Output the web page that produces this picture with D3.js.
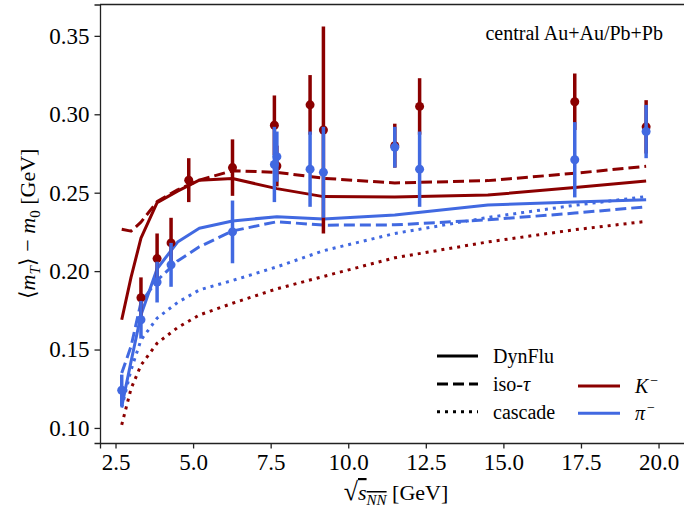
<!DOCTYPE html>
<html>
<head>
<meta charset="utf-8">
<script src="https://cdn.jsdelivr.net/npm/d3@7"></script>
<style>
  body { margin: 0; background: #fff; }
  svg text { font-family: 'Liberation Serif', 'Times New Roman', serif !important; fill: #000; }
</style>
</head>
<body>
<script>
const W = 684, H = 509;
const serif = "'Liberation Serif', 'Times New Roman', serif";

// model grid (sqrt(s_NN) in GeV)
const modelE = [2.7, 3.0, 3.32, 3.84, 4.5, 5.2, 6.27, 7.7, 9.2, 11.5, 14.5, 17.3, 19.6];
const kDynFlu  = [0.169, 0.196, 0.221, 0.2437, 0.251, 0.258, 0.259, 0.2526, 0.2475, 0.2472, 0.2485, 0.2533, 0.2575];
const kIso     = [0.2267, 0.2255, 0.2312, 0.2443, 0.2518, 0.258, 0.264, 0.263, 0.2592, 0.2562, 0.2577, 0.2624, 0.2668];
const kCascade = [0.102, 0.125, 0.140, 0.154, 0.164, 0.172, 0.1795, 0.1887, 0.1966, 0.2085, 0.2186, 0.2264, 0.2317];
const piDynFlu  = [0.1136, 0.1423, 0.172, 0.2015, 0.2185, 0.2273, 0.232, 0.2347, 0.2332, 0.2358, 0.2422, 0.244, 0.2455];
const piIso     = [0.135, 0.152, 0.180, 0.194, 0.2065, 0.2155, 0.2256, 0.2315, 0.2293, 0.2295, 0.2327, 0.237, 0.241];
const piCascade = [0.113, 0.137, 0.156, 0.170, 0.180, 0.188, 0.194, 0.2027, 0.213, 0.224, 0.2342, 0.242, 0.2475];

// experimental data
const expE_K  = [3.32, 3.84, 4.29, 4.86, 6.27, 7.62, 7.7, 8.77, 9.2, 11.5, 12.3, 17.3, 19.6];
const expK    = [0.183, 0.208, 0.218, 0.258, 0.266, 0.293, 0.267, 0.306, 0.290, 0.280, 0.305, 0.308, 0.292];
const expKerr = [0.013, 0.016, 0.016, 0.014, 0.018, 0.019, 0.013, 0.019, 0.066, 0.014, 0.018, 0.018, 0.017];
const expE_pi  = [2.7, 3.32, 3.84, 4.29, 6.27, 7.62, 7.7, 8.77, 9.2, 11.5, 12.3, 17.3, 19.6];
const expPi    = [0.124, 0.169, 0.193, 0.204, 0.225, 0.268, 0.273, 0.265, 0.263, 0.279, 0.265, 0.271, 0.289];
const expPiErr = [0.010, 0.012, 0.013, 0.014, 0.020, 0.024, 0.016, 0.024, 0.029, 0.013, 0.024, 0.024, 0.017];

const xTicks = [2.5, 5.0, 7.5, 10.0, 12.5, 15.0, 17.5, 20.0];
const yTicks = [0.10, 0.15, 0.20, 0.25, 0.30, 0.35];

const red = "#8b0000", blue = "#4169e1";

const plotLeft = 100, plotTop = 4.5, plotBottom = 443;

const x = d3.scaleLinear().domain([2.0, 21.0]).range([plotLeft, plotLeft + 19 * 31.03]);
const y = d3.scaleLinear().domain([0.0904, 0.37]).range([plotBottom, plotTop]);

const svg = d3.select("body").append("svg")
    .attr("width", W).attr("height", H)
    .attr("font-family", serif);

// axes
const xAxis = svg.append("g")
    .attr("transform", "translate(0," + plotBottom + ")")
    .call(d3.axisBottom(x).tickValues(xTicks).tickFormat(d3.format(".1f")).tickSizeOuter(0).tickSize(5.5).tickPadding(5));
const yAxis = svg.append("g")
    .attr("transform", "translate(" + plotLeft + ",0)")
    .call(d3.axisLeft(y).tickValues(yTicks).tickFormat(d3.format(".2f")).tickSizeOuter(0).tickSize(5.5).tickPadding(5));

[xAxis, yAxis].forEach(a => {
    a.attr("font-family", serif).attr("font-size", 23);
    a.selectAll("path.domain").attr("stroke", "#222").attr("stroke-width", 1.3);
    a.selectAll(".tick line").attr("stroke", "#222").attr("stroke-width", 1.3);
    a.selectAll(".tick text").attr("fill", "#000");
});

// top spine
svg.append("line")
    .attr("x1", plotLeft).attr("x2", W).attr("y1", plotTop).attr("y2", plotTop)
    .attr("stroke", "#222").attr("stroke-width", 1.3);

// model curves
const line = d3.line().x(d => x(d[0])).y(d => y(d[1]));
const curves = [
    { v: kDynFlu, c: red, dash: null },
    { v: kIso, c: red, dash: "11,5" },
    { v: kCascade, c: red, dash: "3,5" },
    { v: piDynFlu, c: blue, dash: null },
    { v: piIso, c: blue, dash: "11,5" },
    { v: piCascade, c: blue, dash: "3,5" }
];
curves.forEach(cv => {
    svg.append("path")
        .attr("d", line(modelE.map((e, i) => [e, cv.v[i]])))
        .attr("fill", "none")
        .attr("stroke", cv.c)
        .attr("stroke-width", 3)
        .attr("stroke-dasharray", cv.dash)
        .attr("stroke-linejoin", "round");
});

// data points with error bars
function drawData(E, V, Err, color) {
    const g = svg.append("g");
    const pts = E.map((e, i) => ({ e: e, v: V[i], err: Err[i] }));
    g.selectAll("line").data(pts).enter().append("line")
        .attr("x1", d => x(d.e)).attr("x2", d => x(d.e))
        .attr("y1", d => y(d.v - d.err)).attr("y2", d => y(d.v + d.err))
        .attr("stroke", color).attr("stroke-width", 3.5);
    g.selectAll("circle").data(pts).enter().append("circle")
        .attr("cx", d => x(d.e)).attr("cy", d => y(d.v))
        .attr("r", 4.5).attr("fill", color);
}
drawData(expE_K, expK, expKerr, red);
drawData(expE_pi, expPi, expPiErr, blue);

// annotation
svg.append("text")
    .attr("x", 663).attr("y", 40)
    .attr("text-anchor", "end")
    .attr("font-size", 20)
    .text("central Au+Au/Pb+Pb");

// y label
const yl = svg.append("text")
    .attr("transform", "translate(35,224) rotate(-90)")
    .attr("text-anchor", "middle")
    .attr("font-size", 22);
yl.append("tspan").text("\u27e8");
yl.append("tspan").attr("font-style", "italic").text("m");
yl.append("tspan").attr("font-style", "italic").attr("font-size", 15).attr("dy", 5).text("T");
yl.append("tspan").attr("dy", -5).text("\u27e9 \u2212 ");
yl.append("tspan").attr("font-style", "italic").text("m");
yl.append("tspan").attr("font-size", 15).attr("dy", 5).text("0");
yl.append("tspan").attr("dy", -5).text(" [GeV]");

// x label
const xl = svg.append("text")
    .attr("x", 396).attr("y", 500)
    .attr("text-anchor", "middle")
    .attr("font-size", 22);
xl.append("tspan").attr("font-size", 26).text("\u221a");
xl.append("tspan").attr("font-style", "italic").style("text-decoration", "overline").text("s");
xl.append("tspan").attr("font-style", "italic").attr("font-size", 15).style("text-decoration", "overline").attr("dy", 5).text("NN");
xl.append("tspan").attr("dy", -5).text(" [GeV]");

// legends
const styleLegend = [
    { label: "DynFlu", dash: null, y: 356 },
    { label: "iso-", tau: true, dash: "11,5", y: 384 },
    { label: "cascade", dash: "3,5", y: 411.7 }
];
styleLegend.forEach(l => {
    svg.append("line")
        .attr("x1", 437).attr("x2", 478).attr("y1", l.y).attr("y2", l.y)
        .attr("stroke", "#000").attr("stroke-width", 3)
        .attr("stroke-dasharray", l.dash);
    const t = svg.append("text").attr("x", 493).attr("y", l.y + 7).attr("font-size", 20);
    t.append("tspan").text(l.label);
    if (l.tau) t.append("tspan").attr("font-style", "italic").text("\u03c4");
});

const colorLegend = [
    { sym: "K", c: red, y: 386 },
    { sym: "\u03c0", c: blue, y: 413.3 }
];
colorLegend.forEach(l => {
    svg.append("line")
        .attr("x1", 578).attr("x2", 620).attr("y1", l.y).attr("y2", l.y)
        .attr("stroke", l.c).attr("stroke-width", 3);
    const t = svg.append("text").attr("x", 635).attr("y", l.y + 7).attr("font-size", 20);
    t.append("tspan").attr("font-style", "italic").text(l.sym);
    t.append("tspan").attr("font-size", 14).attr("dy", -8).attr("dx", 2).text("\u2212");
});
</script>
</body>
</html>
